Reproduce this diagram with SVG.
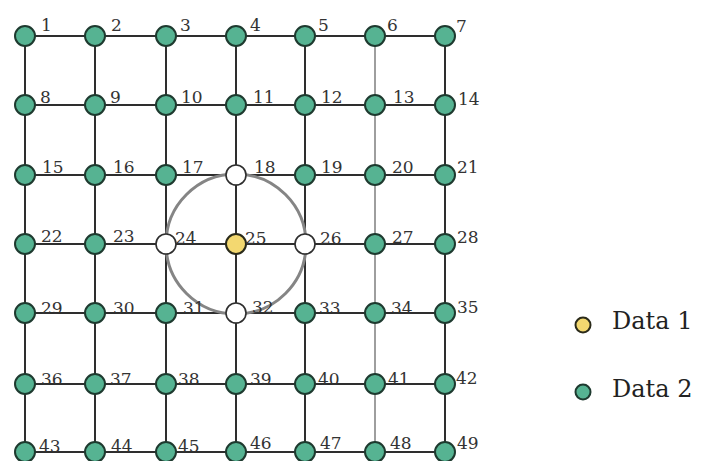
<svg xmlns="http://www.w3.org/2000/svg" width="703" height="461" viewBox="0 0 703 461">
<style>
.e{stroke:#2e2e2e;stroke-width:2;fill:none}
.t{stroke:#6a6a6a;stroke-width:1.3;fill:none}
.g{fill:#56b392;stroke:#1e3a2f;stroke-width:2}
.y{fill:#f3d870;stroke:#2a2a1a;stroke-width:2}
.o{fill:#ffffff;stroke:#2e2e2e;stroke-width:1.6}
.l{font-family:"DejaVu Serif","Liberation Serif",serif;font-size:17px;fill:#333}
.lg{font-family:"DejaVu Serif","Liberation Serif",serif;font-size:24px;fill:#222}
</style>
<rect width="703" height="461" fill="#ffffff"/>
<g id="connectors">
<path class="e" d="M25 36H445M25 105H445M25 175H445M25 244H445M25 313H445M25 384H445M25 452H445"/>
<path class="e" d="M25 36V461M95 36V461M166 36V461M236 36V461M305 36V461M445 36V461"/>
<path class="t" d="M375 36V461"/>
<circle cx="236" cy="244" r="70" fill="none" stroke="#858585" stroke-width="3"/>
</g>
<g id="n1"><circle class="g" cx="25" cy="36" r="10"/><text class="l" x="41" y="31">1</text></g>
<g id="n2"><circle class="g" cx="95" cy="36" r="10"/><text class="l" x="111" y="31">2</text></g>
<g id="n3"><circle class="g" cx="166" cy="36" r="10"/><text class="l" x="180" y="31">3</text></g>
<g id="n4"><circle class="g" cx="236" cy="36" r="10"/><text class="l" x="250" y="31">4</text></g>
<g id="n5"><circle class="g" cx="305" cy="36" r="10"/><text class="l" x="318" y="31">5</text></g>
<g id="n6"><circle class="g" cx="375" cy="36" r="10"/><text class="l" x="387" y="31">6</text></g>
<g id="n7"><circle class="g" cx="445" cy="36" r="10"/><text class="l" x="456" y="32">7</text></g>
<g id="n8"><circle class="g" cx="25" cy="105" r="10"/><text class="l" x="40" y="103">8</text></g>
<g id="n9"><circle class="g" cx="95" cy="105" r="10"/><text class="l" x="110" y="103">9</text></g>
<g id="n10"><circle class="g" cx="166" cy="105" r="10"/><text class="l" x="181" y="103">10</text></g>
<g id="n11"><circle class="g" cx="236" cy="105" r="10"/><text class="l" x="253" y="103">11</text></g>
<g id="n12"><circle class="g" cx="305" cy="105" r="10"/><text class="l" x="321" y="103">12</text></g>
<g id="n13"><circle class="g" cx="375" cy="105" r="10"/><text class="l" x="393" y="103">13</text></g>
<g id="n14"><circle class="g" cx="445" cy="105" r="10"/><text class="l" x="458" y="105">14</text></g>
<g id="n15"><circle class="g" cx="25" cy="175" r="10"/><text class="l" x="42" y="173">15</text></g>
<g id="n16"><circle class="g" cx="95" cy="175" r="10"/><text class="l" x="113" y="173">16</text></g>
<g id="n17"><circle class="g" cx="166" cy="175" r="10"/><text class="l" x="182" y="173">17</text></g>
<g id="n18"><circle class="o" cx="236" cy="175" r="10"/><text class="l" x="254" y="173">18</text></g>
<g id="n19"><circle class="g" cx="305" cy="175" r="10"/><text class="l" x="321" y="173">19</text></g>
<g id="n20"><circle class="g" cx="375" cy="175" r="10"/><text class="l" x="392" y="173">20</text></g>
<g id="n21"><circle class="g" cx="445" cy="175" r="10"/><text class="l" x="457" y="173">21</text></g>
<g id="n22"><circle class="g" cx="25" cy="244" r="10"/><text class="l" x="41" y="242">22</text></g>
<g id="n23"><circle class="g" cx="95" cy="244" r="10"/><text class="l" x="113" y="242">23</text></g>
<g id="n24"><circle class="o" cx="166" cy="244" r="10"/><text class="l" x="175" y="244">24</text></g>
<g id="n25"><circle class="y" cx="236" cy="244" r="10"/><text class="l" x="245" y="244">25</text></g>
<g id="n26"><circle class="o" cx="305" cy="244" r="10"/><text class="l" x="320" y="244">26</text></g>
<g id="n27"><circle class="g" cx="375" cy="244" r="10"/><text class="l" x="392" y="243">27</text></g>
<g id="n28"><circle class="g" cx="445" cy="244" r="10"/><text class="l" x="457" y="243">28</text></g>
<g id="n29"><circle class="g" cx="25" cy="313" r="10"/><text class="l" x="41" y="314">29</text></g>
<g id="n30"><circle class="g" cx="95" cy="313" r="10"/><text class="l" x="113" y="314">30</text></g>
<g id="n31"><circle class="g" cx="166" cy="313" r="10"/><text class="l" x="183" y="314">31</text></g>
<g id="n32"><circle class="o" cx="236" cy="313" r="10"/><text class="l" x="252" y="313">32</text></g>
<g id="n33"><circle class="g" cx="305" cy="313" r="10"/><text class="l" x="319" y="314">33</text></g>
<g id="n34"><circle class="g" cx="375" cy="313" r="10"/><text class="l" x="391" y="314">34</text></g>
<g id="n35"><circle class="g" cx="445" cy="313" r="10"/><text class="l" x="457" y="313">35</text></g>
<g id="n36"><circle class="g" cx="25" cy="384" r="10"/><text class="l" x="41" y="385">36</text></g>
<g id="n37"><circle class="g" cx="95" cy="384" r="10"/><text class="l" x="110" y="385">37</text></g>
<g id="n38"><circle class="g" cx="166" cy="384" r="10"/><text class="l" x="178" y="385">38</text></g>
<g id="n39"><circle class="g" cx="236" cy="384" r="10"/><text class="l" x="250" y="385">39</text></g>
<g id="n40"><circle class="g" cx="305" cy="384" r="10"/><text class="l" x="318" y="385">40</text></g>
<g id="n41"><circle class="g" cx="375" cy="384" r="10"/><text class="l" x="388" y="385">41</text></g>
<g id="n42"><circle class="g" cx="445" cy="384" r="10"/><text class="l" x="456" y="384">42</text></g>
<g id="n43"><circle class="g" cx="25" cy="452" r="10"/><text class="l" x="39" y="452">43</text></g>
<g id="n44"><circle class="g" cx="95" cy="452" r="10"/><text class="l" x="111" y="452">44</text></g>
<g id="n45"><circle class="g" cx="166" cy="452" r="10"/><text class="l" x="178" y="452">45</text></g>
<g id="n46"><circle class="g" cx="236" cy="452" r="10"/><text class="l" x="250" y="449">46</text></g>
<g id="n47"><circle class="g" cx="305" cy="452" r="10"/><text class="l" x="320" y="449">47</text></g>
<g id="n48"><circle class="g" cx="375" cy="452" r="10"/><text class="l" x="390" y="449">48</text></g>
<g id="n49"><circle class="g" cx="445" cy="452" r="10"/><text class="l" x="457" y="449">49</text></g>
<g id="legend1"><circle class="y" cx="583" cy="325" r="7.5"/><text class="lg" x="612" y="329">Data 1</text></g>
<g id="legend2"><circle class="g" cx="583" cy="392" r="7.5"/><text class="lg" x="612" y="397">Data 2</text></g>
</svg>
